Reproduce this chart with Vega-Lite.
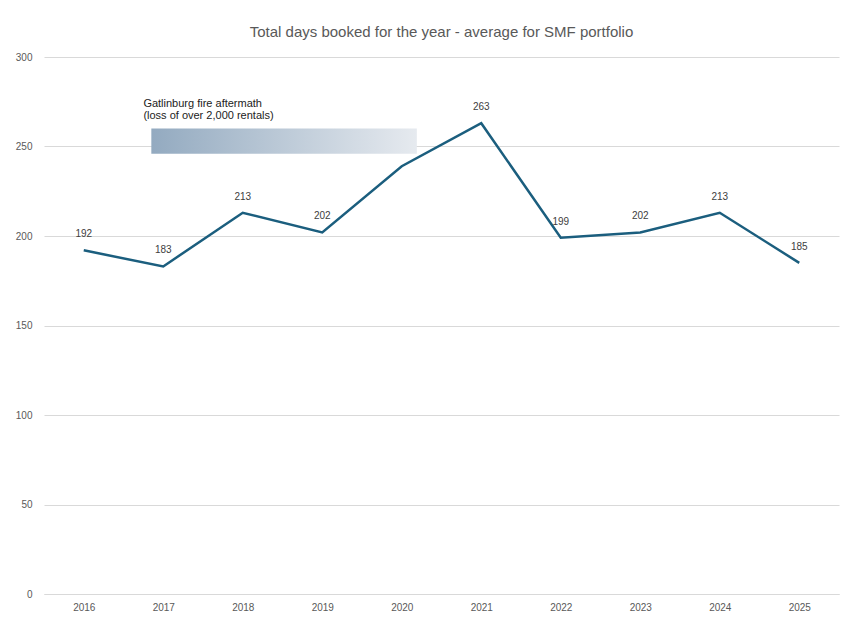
{
"$schema":"https://vega.github.io/schema/vega-lite/v6.json",
"width":860,"height":629,
"autosize":{"type":"fit","contains":"padding"},
"padding":{"left":15,"right":21,"top":25,"bottom":17},
"title":{"text":"Total days booked for the year - average for SMF portfolio","font":"Liberation Sans","fontSize":15,"fontWeight":"normal","color":"#595959","offset":12},
"config":{"view":{"stroke":null},"font":"Liberation Sans"},
"data":{"values":[
{"year":2016,"days":192,"label":"192"},
{"year":2017,"days":183,"label":"183"},
{"year":2018,"days":213,"label":"213"},
{"year":2019,"days":202,"label":"202"},
{"year":2020,"days":239,"label":""},
{"year":2021,"days":263,"label":"263"},
{"year":2022,"days":199,"label":"199"},
{"year":2023,"days":202,"label":"202"},
{"year":2024,"days":213,"label":"213"},
{"year":2025,"days":185,"label":"185"}
]},
"encoding":{
"x":{"field":"year","type":"quantitative","scale":{"domain":[2015.5,2025.5],"nice":false,"zero":false},"axis":{"values":[2016,2017,2018,2019,2020,2021,2022,2023,2024,2025],"format":"d","title":null,"grid":false,"ticks":false,"domain":true,"domainColor":"#d9d9d9","labelColor":"#595959","labelFontSize":10,"labelPadding":8}},
"y":{"field":"days","type":"quantitative","scale":{"domain":[0,300],"nice":false},"axis":{"values":[0,50,100,150,200,250,300],"title":null,"domain":false,"ticks":false,"gridColor":"#d9d9d9","labelColor":"#595959","labelFontSize":10,"labelPadding":12}}
},
"layer":[
{"data":{"values":[{"x1":2016.85,"x2":2020.19,"y1":246,"y2":260}]},
 "mark":{"type":"rect","fill":{"gradient":"linear","x1":0,"y1":0,"x2":1,"y2":0,"stops":[{"offset":0,"color":"#93aac0"},{"offset":1,"color":"#e6eaef"}]}},
 "encoding":{"x":{"field":"x1","type":"quantitative"},"x2":{"field":"x2"},"y":{"field":"y1","type":"quantitative"},"y2":{"field":"y2"}}},
{"data":{"values":[{"x":2016.75,"y":274,"t":"Gatlinburg fire aftermath"},{"x":2016.75,"y":267,"t":"(loss of over 2,000 rentals)"}]},
 "mark":{"type":"text","align":"left","fontSize":11,"color":"#222222"},
 "encoding":{"x":{"field":"x","type":"quantitative"},"y":{"field":"y","type":"quantitative"},"text":{"field":"t"}}},
{"mark":{"type":"line","color":"#1b5e7e","strokeWidth":2.5}},
{"mark":{"type":"text","dy":-16,"fontSize":10,"color":"#404040"},"encoding":{"text":{"field":"label"}}}
]
}
